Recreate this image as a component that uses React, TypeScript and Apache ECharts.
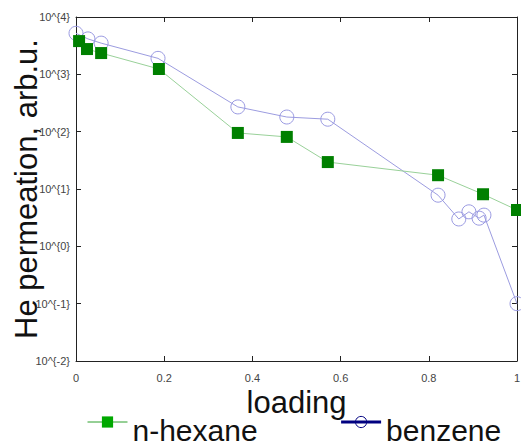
import React, { useEffect, useRef } from "react";
import * as echarts from "echarts";

const hexaneX = [0.007, 0.025, 0.057, 0.188, 0.367, 0.478, 0.571, 0.821, 0.923, 1.0];
const hexaneY = [3800, 2760, 2350, 1240, 95, 81, 29.5, 17.4, 8.1, 4.3];
const benzeneX = [0.0, 0.027, 0.057, 0.186, 0.367, 0.478, 0.571, 0.821, 0.868, 0.891, 0.914, 0.925, 1.0];
const benzeneY = [5200, 4150, 3500, 1900, 270, 180, 165, 7.8, 3.0, 4.0, 3.1, 3.5, 0.1];
const seriesNames = ["n-hexane", "benzene"];
const xTicks = [0, 0.2, 0.4, 0.6, 0.8, 1];
const xLabels = ["0", "0.2", "0.4", "0.6", "0.8", "1"];

const FONT = "Liberation Sans, Arial, Helvetica, sans-serif";

export default function App() {
  const ref = useRef<HTMLDivElement>(null);
  useEffect(() => {
    if (!ref.current) return;
    const chart = echarts.init(ref.current, null, { renderer: "svg" });
    const tickStyle = { show: true, inside: true, length: 5, lineStyle: { color: "#222", width: 1 } };
    const xLabel = (v: number) => {
      const i = xTicks.findIndex((t) => Math.abs(t - v) < 1e-9);
      return i >= 0 ? xLabels[i] : "";
    };
    chart.setOption({
      animation: false,
      backgroundColor: "#fff",
      textStyle: { fontFamily: FONT },
      grid: { left: 76, right: 4, top: 17, bottom: 87, containLabel: false, outerBoundsMode: "none" },
      legend: {
        left: 82,
        top: 410,
        itemWidth: 40,
        itemHeight: 14,
        itemGap: 82,
        formatter: (n: string) => "{t|" + n + "}",
        textStyle: {
          fontSize: 30,
          color: "#111",
          fontFamily: FONT,
          rich: { t: { fontSize: 30, color: "#111", fontFamily: FONT, padding: [16, 0, 0, 0] } },
        },
        data: [
          {
            name: seriesNames[0],
            itemStyle: { color: "#00a800", borderWidth: 0 },
            lineStyle: { color: "#2ca02c", width: 1 },
          },
          {
            name: seriesNames[1],
            itemStyle: { color: "transparent", borderColor: "#000080", borderWidth: 1 },
            lineStyle: { color: "#000080", width: 3 },
          },
        ],
      },
      xAxis: [
        {
          type: "value",
          min: 0,
          max: 1,
          interval: 0.2,
          name: "loading",
          nameLocation: "middle",
          nameGap: 26,
          nameMoveOverlap: false,
          nameTextStyle: { fontSize: 31, color: "#111", fontFamily: FONT },
          axisLine: { show: true, onZero: false, lineStyle: { color: "#222", width: 1 } },
          axisTick: tickStyle,
          splitLine: { show: false },
          axisLabel: { margin: 11, fontSize: 11, color: "#444", fontFamily: FONT, formatter: xLabel },
        },
        {
          type: "value",
          position: "top",
          min: 0,
          max: 1,
          interval: 0.2,
          axisLine: { show: true, onZero: false, lineStyle: { color: "#222", width: 1 } },
          axisTick: tickStyle,
          splitLine: { show: false },
          axisLabel: { show: false },
        },
      ],
      yAxis: [
        {
          type: "log",
          logBase: 10,
          min: 0.01,
          max: 10000,
          splitNumber: 6,
          name: "He permeation, arb.u.",
          nameLocation: "middle",
          nameGap: 34,
          nameMoveOverlap: false,
          nameTextStyle: { fontSize: 31, color: "#111", fontFamily: FONT },
          axisLine: { show: true, onZero: false, lineStyle: { color: "#222", width: 1 } },
          axisTick: tickStyle,
          splitLine: { show: false },
          minorTick: { show: false },
          axisLabel: {
            margin: 6,
            fontSize: 11,
            color: "#444",
            fontFamily: FONT,
            formatter: (v: number) => "10^{" + Math.round(Math.log10(v)) + "}",
          },
        },
        {
          type: "log",
          logBase: 10,
          min: 0.01,
          max: 10000,
          splitNumber: 6,
          position: "right",
          axisLine: { show: true, onZero: false, lineStyle: { color: "#222", width: 1 } },
          axisTick: tickStyle,
          splitLine: { show: false },
          axisLabel: { show: false },
        },
      ],
      series: [
        {
          name: seriesNames[0],
          type: "line",
          data: hexaneX.map((x, i) => [x, hexaneY[i]]),
          symbol: "rect",
          symbolSize: 12,
          clip: false,
          lineStyle: { color: "#99d199", width: 1 },
          itemStyle: { color: "#008000" },
          z: 3,
        },
        {
          name: seriesNames[1],
          type: "line",
          data: benzeneX.map((x, i) => [x, benzeneY[i]]),
          symbol: "circle",
          symbolSize: 14,
          clip: false,
          lineStyle: { color: "#9c9ce0", width: 1 },
          itemStyle: { color: "transparent", borderColor: "#9a9ae2", borderWidth: 1 },
          z: 2,
        },
      ],
    });
    return () => chart.dispose();
  }, []);
  return (
    <div
      ref={ref}
      style={{ position: "fixed", left: 0, top: 0, width: 521, height: 448, background: "#fff" }}
    />
  );
}
